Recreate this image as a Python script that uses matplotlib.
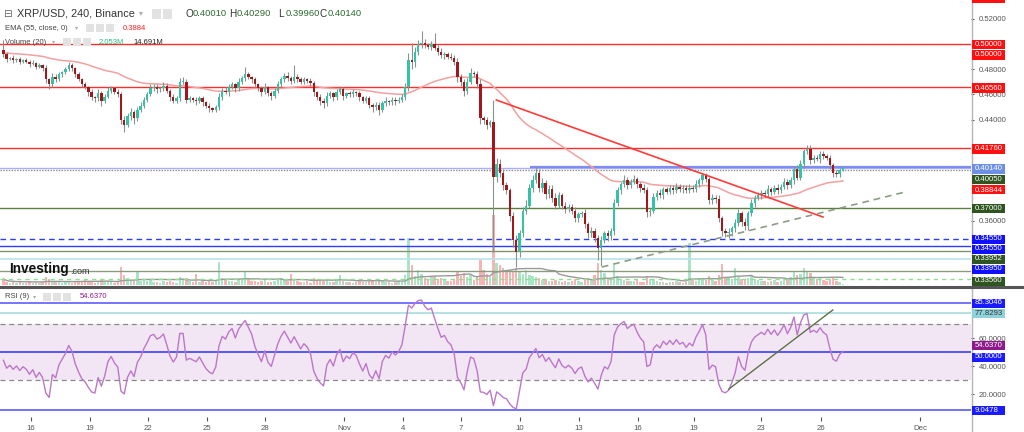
import numpy as np
import pandas as pd
import matplotlib
matplotlib.use("Agg")
import matplotlib.pyplot as plt
from matplotlib.patches import Rectangle

plt.rcParams['font.family'] = ['Liberation Sans', 'DejaVu Sans']

# XRP/USD 4h candles (closes)
closes = [
    0.492, 0.488, 0.489, 0.487, 0.488, 0.486, 0.487,
    0.486, 0.484, 0.485, 0.482, 0.483, 0.481,
    0.472, 0.468, 0.474, 0.472, 0.476, 0.478,
    0.480, 0.483, 0.481, 0.476, 0.472, 0.468,
    0.466, 0.462, 0.458, 0.457, 0.461, 0.455,
    0.458, 0.463, 0.465, 0.462, 0.460, 0.440,
    0.436, 0.443, 0.446, 0.441, 0.448, 0.451,
    0.456, 0.460, 0.465, 0.466, 0.464, 0.465,
    0.467, 0.463, 0.458, 0.455, 0.457, 0.470,
    0.470, 0.456, 0.457, 0.456, 0.455, 0.457,
    0.454, 0.451, 0.449, 0.448, 0.450, 0.458,
    0.463, 0.462, 0.466, 0.468, 0.465, 0.470,
    0.473, 0.476, 0.474, 0.472, 0.468, 0.465,
    0.462, 0.466, 0.461, 0.459, 0.463, 0.468,
    0.472, 0.475, 0.473, 0.471, 0.474, 0.472,
    0.470, 0.472, 0.471, 0.469, 0.462, 0.458,
    0.455, 0.453, 0.459, 0.461, 0.458, 0.462,
    0.464, 0.459, 0.461, 0.460, 0.462, 0.461,
    0.458, 0.455, 0.457, 0.452, 0.450, 0.452,
    0.448, 0.453, 0.455, 0.454, 0.456, 0.455,
    0.456, 0.458, 0.466, 0.487, 0.486, 0.494,
    0.500, 0.501, 0.499, 0.498, 0.500, 0.497,
    0.494, 0.491, 0.492, 0.490, 0.489, 0.486,
    0.474, 0.470, 0.463, 0.470, 0.477, 0.476,
    0.468, 0.441, 0.440, 0.436, 0.438, 0.395,
    0.405, 0.398, 0.388, 0.384, 0.364, 0.345,
    0.335, 0.350, 0.368, 0.372, 0.386, 0.392,
    0.398, 0.386, 0.390, 0.381, 0.385, 0.378,
    0.372, 0.380, 0.372, 0.369, 0.371, 0.368,
    0.362, 0.365, 0.366, 0.357, 0.350, 0.352,
    0.346, 0.338, 0.345, 0.350, 0.348, 0.352,
    0.374, 0.384, 0.389, 0.392, 0.388, 0.391,
    0.393, 0.389, 0.386, 0.384, 0.367, 0.368,
    0.379, 0.382, 0.380, 0.385, 0.383, 0.386,
    0.384, 0.387, 0.385, 0.386, 0.384, 0.386,
    0.385, 0.389, 0.392, 0.396, 0.393, 0.376,
    0.378, 0.377, 0.362, 0.352, 0.350, 0.351,
    0.354, 0.358, 0.366, 0.359, 0.356, 0.366,
    0.374, 0.378, 0.380, 0.382, 0.381, 0.385,
    0.383, 0.386, 0.384, 0.387, 0.391, 0.388,
    0.392, 0.401, 0.394, 0.405, 0.415, 0.417,
    0.408, 0.410, 0.409, 0.413, 0.411, 0.410,
    0.404, 0.398, 0.397, 0.4001, 0.4014,
]
first_open = 0.4955

# upper / lower wick lengths in thousandths
wick_hi = [
    8, 2, 1, 2, 1, 2, 1,  2, 1, 2, 1, 2, 1,  2, 1, 3, 2, 2, 1,  2, 3, 2, 1, 2, 1,
    2, 1, 2, 1, 3, 2,  2, 3, 2, 1, 2, 2,  3, 2, 3, 2, 2, 3,  2, 2, 3, 2, 2, 1,
    3, 2, 1, 2, 2, 3,  4, 2, 2, 1, 2, 2,  2, 1, 2, 1, 2, 3,  2, 3, 2, 2, 1, 3,
    2, 6, 2, 1, 2, 1,  2, 3, 1, 2, 2, 3,  2, 2, 3, 2, 9, 2,  2, 2, 1, 2, 2, 1,
    2, 2, 3, 2, 1, 2,  3, 2, 1, 2, 2, 1,  2, 1, 2, 2, 1, 2,  2, 2, 3, 1, 2, 2,
    2, 2, 3, 6, 14, 4,  3, 9, 3, 2, 2, 9,  2, 3, 2, 2, 3, 2,  3, 2, 2, 3, 4, 2,
    3, 4, 2, 2, 2, 18,  5, 4, 3, 3, 2, 3,  4, 3, 3, 4, 3, 4,  5, 3, 4, 2, 3, 3,
    4, 3, 2, 3, 2, 2,  3, 2, 2, 3, 2, 3,  2, 3, 3, 2, 3, 2,  3, 3, 2, 4, 3, 2,
    3, 2, 2, 3, 3, 2,  3, 2, 3, 2, 2, 2,  2, 3, 2, 2, 2, 3,  2, 3, 2, 2, 2, 2,
    3, 2, 3, 2, 2, 3,  2, 3, 3, 2, 3, 2,  3, 2, 3, 2, 2, 3,  2, 2, 3, 2, 3, 2,
    3, 2, 3, 3, 2, 3,  3, 2, 2, 2, 2, 2,  2, 2, 2, 2, 1.5,
]
wick_lo = [
    2, 2, 1, 2, 1, 2, 1,  1, 2, 1, 2, 1, 2,  3, 4, 2, 2, 1, 2,  2, 1, 2, 2, 1, 2,
    2, 3, 2, 3, 2, 4,  2, 1, 2, 2, 2, 3,  6, 2, 3, 4, 2, 2,  2, 2, 1, 2, 3, 2,
    2, 2, 3, 2, 2, 2,  2, 3, 2, 2, 3, 2,  3, 2, 3, 2, 2, 2,  2, 2, 3, 2, 3, 2,
    2, 2, 2, 3, 2, 2,  3, 2, 2, 3, 2, 2,  2, 2, 2, 3, 2, 2,  2, 2, 2, 2, 3, 2,
    3, 4, 2, 2, 3, 2,  2, 3, 2, 2, 2, 2,  3, 2, 2, 3, 4, 2,  4, 2, 2, 2, 2, 3,
    2, 2, 2, 3, 6, 4,  3, 3, 2, 2, 3, 2,  3, 2, 3, 2, 2, 3,  4, 3, 4, 3, 2, 2,
    3, 4, 3, 3, 2, 60,  4, 3, 4, 3, 4, 6,  12, 4, 3, 3, 2, 3,  2, 3, 3, 4, 3, 3,
    3, 2, 3, 3, 2, 3,  3, 3, 2, 3, 4, 3,  3, 9, 14, 3, 4, 3,  3, 2, 3, 2, 3, 2,
    2, 3, 3, 2, 4, 3,  2, 3, 2, 3, 2, 2,  3, 2, 2, 3, 2, 2,  2, 2, 2, 3, 2, 3,
    3, 3, 3, 4, 3, 4,  3, 3, 2, 3, 3, 3,  2, 3, 2, 3, 2, 2,  3, 2, 3, 2, 2, 3,
    2, 3, 2, 2, 3, 2,  3, 2, 2, 3, 2, 2,  3, 3, 2, 2, 0.5,
]

# volume, millions
volume = [
    12, 6, 5, 7, 4, 6, 5,  5, 8, 4, 6, 5, 7,  16, 12, 8, 6, 7, 5,  6, 9, 5, 6, 8, 7,
    10, 8, 6, 5, 7, 12,  6, 8, 7, 5, 6, 36,  20, 14, 10, 8, 26, 9,  12, 8, 10, 6, 7, 5,
    8, 6, 9, 7, 5, 16,  12, 14, 8, 6, 22, 7,  8, 6, 10, 7, 9, 46,  14, 10, 9, 8, 6, 12,
    10, 26, 12, 8, 9, 7,  8, 10, 6, 7, 9, 12,  14, 10, 8, 22, 12, 8,  7, 6, 8, 5, 14, 10,
    12, 8, 10, 7, 6, 9,  20, 8, 6, 7, 5, 6,  9, 7, 6, 10, 8, 6,  12, 8, 6, 7, 5, 6,
    8, 7, 20, 94, 40, 18,  30, 22, 14, 12, 16, 18,  12, 14, 10, 8, 9, 12,  28, 18, 24, 16, 20, 10,
    18, 50, 30, 22, 16, 140,  44, 40, 34, 28, 30, 26,  34, 28, 22, 30, 20, 18,  16, 14, 10, 12, 8, 9,
    10, 8, 7, 9, 6, 8,  12, 8, 6, 10, 14, 12,  20, 44, 30, 24, 14, 12,  40, 18, 12, 10, 8, 9,
    8, 10, 7, 6, 18, 12,  10, 8, 6, 7, 5, 6,  7, 8, 6, 5, 7, 84,  10, 8, 12, 14, 10, 18,
    10, 8, 20, 42, 16, 14,  12, 34, 16, 12, 10, 14,  18, 12, 10, 8, 9, 7,  8, 10, 7, 9, 12, 10,
    16, 28, 20, 22, 34, 26,  24, 14, 12, 16, 10, 8,  12, 14, 8, 6, 2.053,
]
assert len(closes) == len(wick_hi) == len(wick_lo) == len(volume) == 258

ema_seed = 0.4930
rsi_seed_gain = 0.0017
rsi_seed_loss = 0.0017

tick_labels = ['16', '19', '22', '25', '28', 'Nov', '4', '7', '10', '13',
               '16', '19', '23', '26', 'Dec']
tick_idx = [8.4, 26.5, 44.3, 62.3, 80.1, 104.3, 122.3, 140.1, 158.1, 176.2,
            194.3, 211.4, 231.9, 250.3, 280.6]
price_ticks = [0.36, 0.44, 0.46, 0.48, 0.52]
rsi_ticks = [20, 40, 60]

# drawings on the chart
red_levels = [0.5000, 0.4656, 0.4176]
lavender_level, lavender_start = 0.4025, 161.2
red_trend_x, red_trend_y = [150.9, 250.9], [0.4556, 0.3629]
sup_trend_x, sup_trend_y = [183.2, 276.0], [0.3233, 0.3827]
rsi_trend_x, rsi_trend_y = [222.1, 253.9], [23.8, 80.2]
rsi_levels = [85.3046, 77.8293, 50.0, 9.0478]

W, H = 1024, 432
UP, DOWN, WICK = '#33c4a8', '#a3161b', '#86948c'

c = np.array(closes)
o = np.r_[first_open, c[:-1]]
hi = np.maximum(o, c) + np.array(wick_hi) / 1000
lo = np.minimum(o, c) - np.array(wick_lo) / 1000
x = np.arange(len(c))
up = c >= o

ema = []
e = ema_seed
for v in c:
    e = e + 2 / 56 * (v - e)
    ema.append(e)

g, l_ = rsi_seed_gain, rsi_seed_loss
rsi = []
prev = first_open
for v in c:
    ch = v - prev
    prev = v
    g = (g * 8 + max(ch, 0)) / 9
    l_ = (l_ * 8 + max(-ch, 0)) / 9
    rsi.append(100 - 100 / (1 + g / l_))

vol_ma = pd.Series(volume).rolling(20, min_periods=1).mean()

fig = plt.figure(figsize=(W / 100, H / 100), dpi=100)
fig.patch.set_facecolor('white')

ax = fig.add_axes([0, 1 - 285 / H, 971 / W, 285 / H])
axv = fig.add_axes([0, 1 - 285 / H, 971 / W, 285 / H])
axr = fig.add_axes([0, 1 - 417 / H, 971 / W, (417 - 288) / H])
axv.set_zorder(0)
ax.set_zorder(1)
ax.patch.set_alpha(0)

xlim = (-1.04, 296.2)
for a in (ax, axv, axr):
    a.set_xlim(*xlim)
    for s in a.spines.values():
        s.set_visible(False)

# volume
axv.axis('off')
axv.set_ylim(0, 570)
axv.bar(x, volume, width=0.75, color=np.where(up, '#a9e4c6', '#f6b4b4'), linewidth=0)
axv.plot(x, vol_ma, color='#9a9a9a', lw=1)

# price
ax.set_ylim(0.30903, 0.53487)
for lv in red_levels:
    ax.axhline(lv, color='#ff2e2e', lw=1, zorder=2)
ax.axhline(0.4014, color='#a9b1f2', lw=1, zorder=2)
ax.axhline(0.4005, color='#909090', lw=1, ls=(0, (1, 1)), zorder=2)
ax.hlines(lavender_level, lavender_start, xlim[1], color='#7d8cf3', lw=1.6, zorder=2)
ax.axhline(0.3700, color='#5c7f3f', lw=1, zorder=2)
ax.axhline(0.3455, color='#2b3cff', lw=1, ls=(0, (4, 3)), zorder=2)
ax.axhline(0.3400, color='#2b3cff', lw=1, zorder=2)
ax.axhline(0.3356, color='#7f9570', lw=1, zorder=2)
ax.axhline(0.3298, color='#b8e2ee', lw=1.2, zorder=2)
ax.axhline(0.3203, color='#8c9b80', lw=1, zorder=2)
ax.axhline(0.3140, color='#8ee08e', lw=1, ls=(0, (3, 3)), zorder=2)

ax.plot(x, ema, color='#f3a0a0', lw=1.1, zorder=3)
ax.vlines(x, lo, hi, color=WICK, lw=0.8, zorder=4)
ax.bar(x, np.maximum(np.abs(c - o), 0.0003), bottom=np.minimum(o, c), width=0.75,
       color=np.where(up, UP, DOWN), linewidth=0, zorder=5)
ax.plot(red_trend_x, red_trend_y, color='#ff3a3a', lw=1.2, zorder=6)
ax.plot(sup_trend_x, sup_trend_y, color='#8e9c86', lw=1.2, ls=(0, (4, 3)), zorder=6)

ax.set_xticks([])
ax.yaxis.tick_right()
ax.set_yticks(price_ticks)
ax.set_yticklabels([f'{v:.5f}' for v in price_ticks])
ax.tick_params(axis='y', length=2.5, pad=3, labelsize=5.6, colors='#555555')

# RSI
axr.set_ylim(3.8, 95.9)
axr.axhspan(30, 70, color='#f3e6f4', lw=0, zorder=0)
axr.axhline(70, color='#8a8a8a', lw=0.9, ls=(0, (4, 3)))
axr.axhline(30, color='#8a8a8a', lw=0.9, ls=(0, (4, 3)))
axr.axhline(rsi_levels[0], color='#5050ff', lw=1.1)
axr.axhline(rsi_levels[1], color='#9fdada', lw=1.1)
axr.axhline(rsi_levels[2], color='#2f2fff', lw=1.1)
axr.axhline(rsi_levels[3], color='#4a4aff', lw=1.1)
axr.plot(x, rsi, color='#bb77c8', lw=1, zorder=3)
axr.plot(rsi_trend_x, rsi_trend_y, color='#5e7048', lw=1, zorder=4)
axr.yaxis.tick_right()
axr.set_yticks(rsi_ticks)
axr.set_yticklabels([f'{v:.4f}' for v in rsi_ticks])
axr.set_xticks(tick_idx)
axr.set_xticklabels(tick_labels)
axr.tick_params(axis='y', length=2.5, pad=3, labelsize=5.6, colors='#555555')
axr.tick_params(axis='x', length=3, pad=3, labelsize=5.6, colors='#555555')

# frame lines
fig.add_artist(plt.Line2D([971.5 / W] * 2, [0, 1], color='#b5b5b5', lw=1))
fig.add_artist(plt.Line2D([0, 1], [1 - 286.5 / H] * 2, color='#555555', lw=2.2))


def box(ypx, fc):
    fig.add_artist(Rectangle((972 / W, 1 - (ypx + 4.5) / H), 33 / W, 9 / H,
                             transform=fig.transFigure, fc=fc, ec='none', zorder=20))


def tag(ypx, txt, fc, tc='white'):
    box(ypx, fc)
    fig.text(974.5 / W, 1 - ypx / H, txt, fontsize=5.6, color=tc, va='center',
             ha='left', zorder=21)


box(-1.5, '#ff1010')
tag(44.5, '0.50000', '#ff1010')
tag(55, '0.50000', '#ff1010')
tag(88, '0.46560', '#ff1010')
tag(149, '0.41760', '#ff1010')
tag(169, '0.40140', '#6d8fe6')
tag(179.5, '0.40050', '#2e5420')
tag(190, '0.38844', '#ff1010')
tag(208.5, '0.37000', '#2e5420')
tag(239, '0.34550', '#1010ff')
tag(249, '0.34550', '#1010ff')
tag(259, '0.33952', '#2e5420')
tag(269, '0.33950', '#1010ff')
tag(281, '0.33560', '#2e5420')
tag(303, '85.3046', '#1a1aff')
tag(313.5, '77.8293', '#8ed3dc', '#333333')
tag(345.5, '54.6370', '#8e1a8e')
tag(357, '50.0000', '#1a1aff')
tag(410, '9.0478', '#1a1aff')


def txt(xp, yp, s, size, color, **kw):
    fig.text(xp / W, 1 - yp / H, s, fontsize=size, color=color, va='center', ha='left', **kw)


def icons(xp, yp, n, size=9):
    for k in range(n):
        fig.add_artist(Rectangle(((xp + k * (size + 2)) / W, 1 - (yp + size / 2) / H),
                                 size / W, size / H, transform=fig.transFigure,
                                 fc='#e2e2e2', ec='none', zorder=20))


# legend
txt(3, 14, '\u229f', 7.5, '#666666')
txt(17, 14, 'XRP/USD, 240, Binance', 7.8, '#333333')
txt(139, 14, '\u25be', 5.5, '#aaaaaa')
icons(152, 14, 2)
for xp, lab, val in [(185, 'O', '0.40010'), (229, 'H', '0.40290'),
                     (278, 'L', '0.39960'), (320, 'C', '0.40140')]:
    txt(xp, 14, lab, 7.2, '#333333')
    txt(xp + 7.5, 14, val, 6.8, '#2d6b33')
txt(5, 28, 'EMA (55, close, 0)', 5.5, '#444444')
txt(75, 28, '\u25be', 4.5, '#aaaaaa')
icons(86, 28, 3, 8)
txt(123, 28, '0.3884', 5.5, '#ff2020')
txt(5, 42, 'Volume (20)', 5.5, '#444444')
txt(52, 42, '\u25be', 4.5, '#aaaaaa')
icons(63, 42, 3, 8)
txt(99, 42, '2.053M', 5.5, '#26c07a')
txt(133, 42, '14.691M', 5.5, '#222222')
txt(5, 297, 'RSI (9)', 5.5, '#444444')
txt(33, 297, '\u25be', 4.5, '#aaaaaa')
icons(43, 297, 3, 8)
txt(80, 297, '54.6370', 5.5, '#8e1a8e')

# watermark
txt(9, 269, 'Investing', 9.8, '#111111', fontweight='bold')
txt(70, 271, '.com', 6.5, '#333333')

fig.savefig('out.png', dpi=100)
